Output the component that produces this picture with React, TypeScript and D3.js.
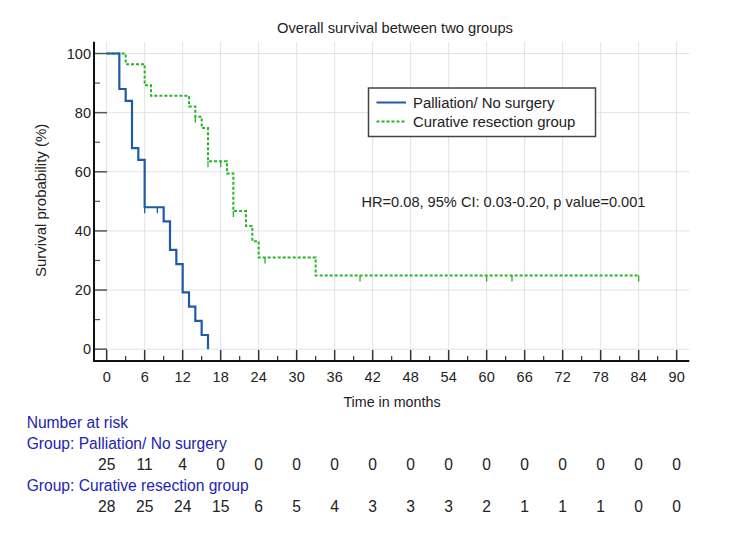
import React from "react";
import * as d3 from "d3";

// ---- Data ----
const palliationTimes = [0, 2, 3, 4, 5, 6, 9, 10, 11, 12, 13, 14, 15, 16];
const palliationSurv = [100, 88, 84, 68, 64, 48, 43.2, 33.6, 28.8, 19.2, 14.4, 9.6, 4.8, 0];
const palliationCensor = [6, 8];

const curativeTimes = [0, 3, 6, 7, 13, 14, 15, 16, 19, 20, 22, 23, 24, 33, 84];
const curativeSurv = [100, 96.4, 89.3, 85.7, 82.1, 78.6, 74.8, 63.6, 59.4, 46.7, 41.7, 36.5, 31.0, 24.9, 24.9];
const curativeCensor = [14, 16, 18, 20, 25, 40, 60, 64, 84];

const xTicks = d3.range(0, 91, 6);
const xMinorTicks = d3.range(3, 91, 6);
const yTicks = [0, 20, 40, 60, 80, 100];
const yMinorTicks = [10, 30, 50, 70, 90];

const riskTimes = d3.range(0, 91, 6);
const riskPalliation = [25, 11, 4, 0, 0, 0, 0, 0, 0, 0, 0, 0, 0, 0, 0, 0];
const riskCurative = [28, 25, 24, 15, 6, 5, 4, 3, 3, 3, 2, 1, 1, 1, 0, 0];

const seriesNames = ["Palliation/ No surgery", "Curative resection group"];
const title = "Overall survival between two groups";
const hrText = "HR=0.08, 95% CI: 0.03-0.20, p value=0.001";

const BLUE = "#1f5aa8";
const GREEN = "#22b822";
const LABEL_BLUE = "#2323b0";
const FONT = "'Liberation Sans', Arial, sans-serif";

export default function App() {
  const x = d3.scaleLinear().domain([-2, 92]).range([94, 94 + 94 * 6.3333]);
  const y = d3.scaleLinear().domain([-4, 104]).range([361, 361 - 108 * 2.9565]);

  const line = d3
    .line<[number, number]>()
    .x((d) => x(d[0]))
    .y((d) => y(d[1]))
    .curve(d3.curveStepAfter);

  const pal: [number, number][] = palliationTimes.map((t, i) => [t, palliationSurv[i]]);
  const cur: [number, number][] = curativeTimes.map((t, i) => [t, curativeSurv[i]]);

  const survAt = (times: number[], surv: number[], t: number) => {
    let v = surv[0];
    for (let i = 0; i < times.length; i++) if (times[i] <= t) v = surv[i];
    return v;
  };

  const [x0, x1] = x.range();
  const [yb, yt] = y.range();

  return (
    <svg
      width={750}
      height={535}
      style={{ position: "absolute", left: 0, top: 0, background: "#fff" }}
      fontFamily={FONT}
    >
      <rect x={0} y={0} width={750} height={535} fill="#fff" />
      {/* grid */}
      {xTicks.map((t) => (
        <line key={"gx" + t} x1={x(t)} x2={x(t)} y1={yt} y2={yb} stroke="#e3e3e3" strokeWidth={1} />
      ))}
      {yTicks.map((t) => (
        <line key={"gy" + t} x1={x0} x2={x1} y1={y(t)} y2={y(t)} stroke="#e3e3e3" strokeWidth={1} />
      ))}

      {/* ticks */}
      {xTicks.map((t) => (
        <line key={"tx" + t} x1={x(t)} x2={x(t)} y1={yb} y2={yb - 11} stroke="#333" strokeWidth={1.5} />
      ))}
      {xMinorTicks.map((t) => (
        <line key={"mx" + t} x1={x(t)} x2={x(t)} y1={yb} y2={yb - 5} stroke="#333" strokeWidth={1.2} />
      ))}
      {yTicks.map((t) => (
        <line key={"ty" + t} x1={x0} x2={x0 + 13} y1={y(t)} y2={y(t)} stroke="#555" strokeWidth={1.5} />
      ))}
      {yMinorTicks.map((t) => (
        <line key={"my" + t} x1={x0} x2={x0 + 6} y1={y(t)} y2={y(t)} stroke="#555" strokeWidth={1.2} />
      ))}

      {/* axes */}
      <line x1={x0} x2={x0} y1={yt} y2={yb + 1} stroke="#111" strokeWidth={2} />
      <line x1={x0 - 1} x2={x1} y1={yb} y2={yb} stroke="#111" strokeWidth={2} />

      {/* tick labels */}
      {xTicks.map((t) => (
        <text key={"lx" + t} x={x(t)} y={yb + 21} textAnchor="middle" fontSize={14.5} fill="#222">
          {t}
        </text>
      ))}
      {yTicks.map((t) => (
        <text key={"ly" + t} x={x0 - 3} y={y(t) + 5} textAnchor="end" fontSize={14.5} fill="#222">
          {t}
        </text>
      ))}

      {/* curves */}
      <path d={line(cur) || ""} fill="none" stroke={GREEN} strokeWidth={2} strokeDasharray="3,2" />
      <path d={line(pal) || ""} fill="none" stroke={BLUE} strokeWidth={2.2} />
      {curativeCensor.map((t) => {
        const v = survAt(curativeTimes, curativeSurv, t);
        return <line key={"cc" + t} x1={x(t)} x2={x(t)} y1={y(v)} y2={y(v) + 6} stroke={GREEN} strokeWidth={1.3} />;
      })}
      {palliationCensor.map((t) => {
        const v = survAt(palliationTimes, palliationSurv, t);
        return <line key={"pc" + t} x1={x(t)} x2={x(t)} y1={y(v)} y2={y(v) + 6} stroke={BLUE} strokeWidth={1.3} />;
      })}

      {/* title & axis labels */}
      <text x={395} y={33} textAnchor="middle" fontSize={14.7} fill="#222">
        {title}
      </text>
      <text x={392} y={407} textAnchor="middle" fontSize={14.3} fill="#222">
        {"Time in months"}
      </text>
      <text
        transform={`translate(46,${(yt + yb) / 2 - 1}) rotate(-90)`}
        textAnchor="middle"
        fontSize={15}
        fill="#222"
      >
        {"Survival probability (%)"}
      </text>

      {/* legend */}
      <rect x={368.5} y={88} width={227} height={48.5} fill="#fff" stroke="#444" strokeWidth={1.5} />
      <line x1={376.5} x2={406} y1={102.5} y2={102.5} stroke={BLUE} strokeWidth={2} />
      <line x1={376.5} x2={406} y1={121.5} y2={121.5} stroke={GREEN} strokeWidth={2} strokeDasharray="3,2" />
      <text x={413} y={107.7} fontSize={14.9} fill="#222">
        {seriesNames[0]}
      </text>
      <text x={413} y={126.7} fontSize={14.9} fill="#222">
        {seriesNames[1]}
      </text>

      <text x={361.5} y={207} fontSize={14.6} fill="#222">
        {hrText}
      </text>

      {/* number at risk */}
      <text x={26.7} y={428.3} fontSize={15.6} fill={LABEL_BLUE}>
        {"Number at risk"}
      </text>
      <text x={26.7} y={449} fontSize={15.6} fill={LABEL_BLUE}>
        {"Group: " + seriesNames[0]}
      </text>
      {riskTimes.map((t, i) => (
        <text key={"rp" + t} x={x(t)} y={470} textAnchor="middle" fontSize={15.6} fill="#222">
          {riskPalliation[i]}
        </text>
      ))}
      <text x={26.7} y={490.7} fontSize={15.6} fill={LABEL_BLUE}>
        {"Group: " + seriesNames[1]}
      </text>
      {riskTimes.map((t, i) => (
        <text key={"rc" + t} x={x(t)} y={511.7} textAnchor="middle" fontSize={15.6} fill="#222">
          {riskCurative[i]}
        </text>
      ))}
    </svg>
  );
}
